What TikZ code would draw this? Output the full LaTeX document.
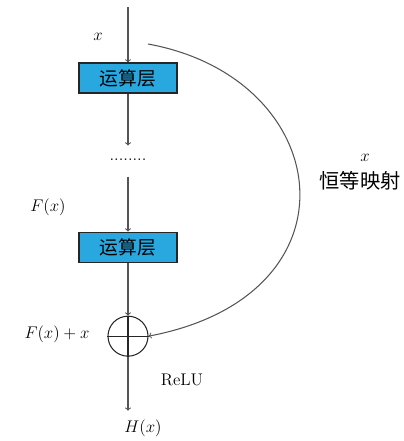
\documentclass[tikz,border=0pt]{standalone}
\usepackage{fontspec}
\newfontfamily\cjk{Noto Sans CJK SC}
\usetikzlibrary{positioning,shapes,arrows}
\def\dx{1cm}
\def\dy{1.6cm}
\definecolor{layerblue}{HTML}{29A8E0}
\definecolor{linegray}{HTML}{555555}
\tikzstyle{layer}=[draw=black!85,fill=layerblue,minimum width=2.94cm,minimum height=0.9cm,inner sep=0pt,font=\cjk\fontsize{16}{18}\selectfont]
\tikzstyle{sum}=[draw=black!85,circle,minimum size=1.2cm,inner sep=0pt]
\tikzstyle{lbl}=[font=\Large]
\newcommand{\newLayer}[3]{\node[layer,#3](#1){#2};}
\newcommand{\newLink}[3]{\path[->] (#1) edge [#3] (#2);}

\begin{document}
\begin{tikzpicture}[x=0.03cm,y=-0.03cm,node distance=\dy and \dx,
    >=to,line width=0.9pt,every edge/.style={draw=linegray}
    ]
    \useasboundingbox (0,0) rectangle (404,441);
    \newLayer{op1}{运算层}{at={(128,78)}}
    \coordinate[above=1.65cm of op1.north] (in);
    \node[minimum height=0.9cm,inner sep=0pt,below=1.56cm of op1.south,font=\Large](dots){\raisebox{0.4ex}{........}};
    \newLayer{op2}{运算层}{below=1.65cm of dots.south}
    \node[sum,below=1.59cm of op2.south](add){};
    \coordinate[below=1.62cm of add.south] (out);
    \coordinate (skip) at (148,44);
    % main path
    \newLink{in}{op1}{}
    \newLink{op1}{dots}{}
    \newLink{dots}{op2}{}
    \newLink{op2}{add}{}
    \newLink{add}{out}{}
    \draw[black!85] (add.north) -- (add.south) (add.west) -- (add.east);
    % identity shortcut
    \draw[->,linegray] (skip) .. controls (335,78) and (365,295) .. (add.east);
    % labels
    \node[lbl] (lx) at (98,37) {$x$};
    \node[lbl] (lf) at (48,207) {$F(x)$};
    \node[lbl] (lfx) at (57,334) {$F(x)+x$};
    \node[font=\Large] (lrelu) at (182,380) {ReLU};
    \node[lbl] (lh) at (143,428) {$H(x)$};
    \node[lbl] (lsx) at (365,158) {$x$};
    \node[font=\cjk\LARGE] (lid) at (360,181) {恒等映射};
\end{tikzpicture}
\end{document}
